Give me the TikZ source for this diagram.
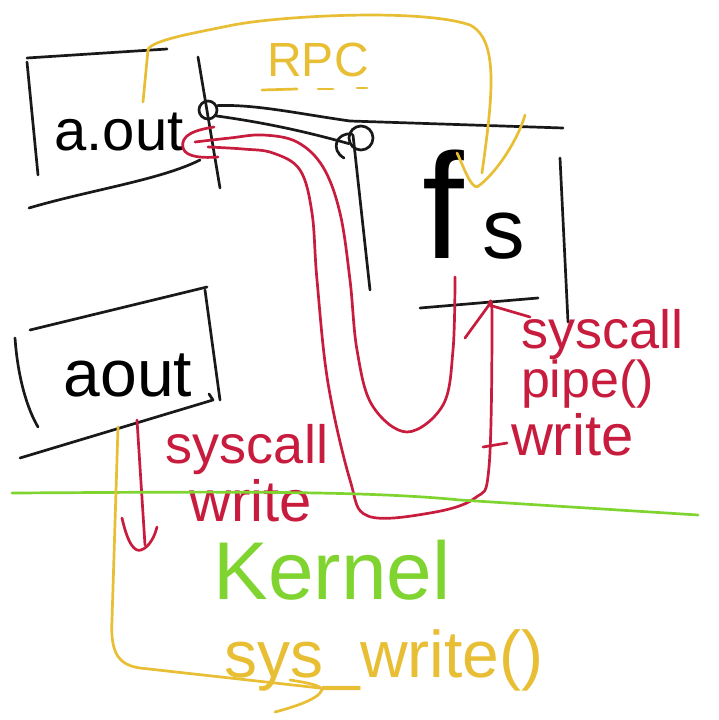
\documentclass[tikz,border=0pt]{standalone}
\usepackage{fontspec}
\setmainfont{Liberation Sans}
\definecolor{pred}{RGB}{200,28,62}
\definecolor{pyel}{RGB}{232,190,52}
\definecolor{pgrn}{RGB}{128,212,48}
\newcommand{\fsz}[1]{\fontsize{#1}{#1}\selectfont}
\begin{document}
\begin{tikzpicture}[x=1pt,y=-1pt,
  pen/.style={line width=2.7pt, line cap=round, line join=round},
  blk/.style={pen, black!90},
  rd/.style={pen, pred},
  yl/.style={pen, pyel},
  gr/.style={pen, pgrn},
  lbl/.style={inner sep=0pt, outer sep=0pt},
  ring/.style={blk, draw, circle, inner sep=0pt}]
\useasboundingbox (0,0) rectangle (718,720);
\fill[white] (0,0) rectangle (718,720);

% ---------- upper a.out box ----------
\draw[blk] (27,58) -- (167,49);
\draw[blk] (27,62) -- (38,175);
\draw[blk] (29,208) .. controls (90,190) and (160,180) .. (200,160);
\draw[blk] (198,57) -- (220,188);
\node[lbl, text=black] (aout1) at (119,132) {\fsz{58}a.out};
\node[ring, minimum size=18pt] (c1) at (208,110) {};

% ---------- fs box ----------
\node[ring, minimum size=24pt] (c2) at (361,138) {};
\coordinate (fsTL) at (350,121);
\coordinate (fsTR) at (563,128);
\draw[blk] (c1.25) .. controls (255,104) and (300,114) .. (fsTL) -- (fsTR);
\draw[blk] (c1.-35) .. controls (260,122) and (300,130) .. (c2.205);
\draw[blk] (344,158) .. controls (330,150) and (336,132) .. (352,134);
\draw[blk] (353,135) -- (370,290);
\draw[blk] (560,158) -- (568,322);
\draw[blk] (420,308) -- (538,298);
\node[lbl, text=black] (fs) at (474,205) {\fsz{150}f\hspace{18pt}\fsz{85}s};

% ---------- lower a.out box ----------
\draw[blk] (30,330) -- (207,287);
\draw[blk] (15,338) .. controls (18,380) and (28,410) .. (38,427);
\draw[blk] (205,290) -- (220,400);
\draw[blk] (20,458) -- (213,400) -- (209,394);
\node[lbl, text=black] (aout2) at (128,375) {\fsz{66}aout};

% ---------- yellow: RPC ----------
\coordinate (rpcA) at (143,102);
\coordinate (rpcB) at (482,173);
\draw[yl] (rpcA) -- (148,50) .. controls (150,40) and (200,32) .. (233,25)
  .. controls (280,16) and (420,8) .. (470,25)
  .. controls (500,40) and (492,100) .. (rpcB);
\draw[yl] (457,153) .. controls (465,170) and (470,186) .. (477,187)
  .. controls (495,175) and (518,140) .. (525,115);
\node[lbl, text=pyel] (rpc) at (318,60) {\fsz{48}RPC};
\draw[yl] (262,90) -- (297,89);
\draw[yl] (318,89) -- (333,89);
\draw[yl] (357,88) -- (367,88);

% ---------- red paths ----------
\coordinate (ra0) at (195,142);
\coordinate (ra1) at (455,277);
\draw[rd] plot[smooth, tension=0.6] coordinates {(ra0) (230,138) (263,135) (297,142) (323,167) (340,213) (350,280) (357,350) (372,405) (407,432) (443,405) (453,350) (ra1)};
\coordinate (rb0) at (208,147);
\coordinate (rb1) at (489,305);
\draw[rd] plot[smooth, tension=0.6] coordinates {(rb0) (243,149) (273,153) (300,170) (312,213) (317,280) (328,383) (350,480) (368,516) (430,513) (475,498) (489,467) (492,317) (rb1)};
\draw[rd] (214,127) .. controls (195,130) and (180,135) .. (183,148)
  .. controls (186,158) and (205,158) .. (218,157);
\draw[rd] (465,338) -- (rb1) -- (530,317);
\draw[rd] (483,447) -- (507,443);

\node[lbl, anchor=west, text=pred] (sysR) at (521,335) {\fsz{54}syscall};
\node[lbl, anchor=west, text=pred] (pipeR) at (521,384) {\fsz{52}pipe()};
\node[lbl, anchor=west, text=pred] (writeR) at (511,435) {\fsz{58}write};

% left red arrow
\coordinate (rl0) at (137,420);
\coordinate (rl1) at (145,545);
\draw[rd] (rl0) -- (rl1);
\draw[rd] (122,518) .. controls (128,545) and (135,552) .. (141,550)
  .. controls (150,547) and (155,535) .. (157,527);
\node[lbl, text=pred] (sysL) at (247,450) {\fsz{54}syscall};
\node[lbl, text=pred] (writeL) at (251,501) {\fsz{58}write};

% ---------- green kernel line ----------
\coordinate (g0) at (12,493);
\coordinate (g1) at (698,515);
\draw[gr] (g0) .. controls (200,492) and (360,490) .. (460,500) -- (g1);
\node[lbl, text=pgrn] (kern) at (332,570) {\fsz{82}Kernel};

% ---------- yellow sys_write ----------
\coordinate (yw0) at (118,427);
\coordinate (yw1) at (320,688);
\draw[yl] (yw0) -- (112,620) .. controls (110,655) and (120,665) .. (140,668)
  -- (yw1);
\draw[yl] (290,680) .. controls (310,683) and (322,686) .. (322,690)
  .. controls (318,700) and (290,708) .. (275,712);
\node[lbl, text=pyel] (sysw) at (384,660) {\fsz{66}sys\_write()};
\end{tikzpicture}
\end{document}
